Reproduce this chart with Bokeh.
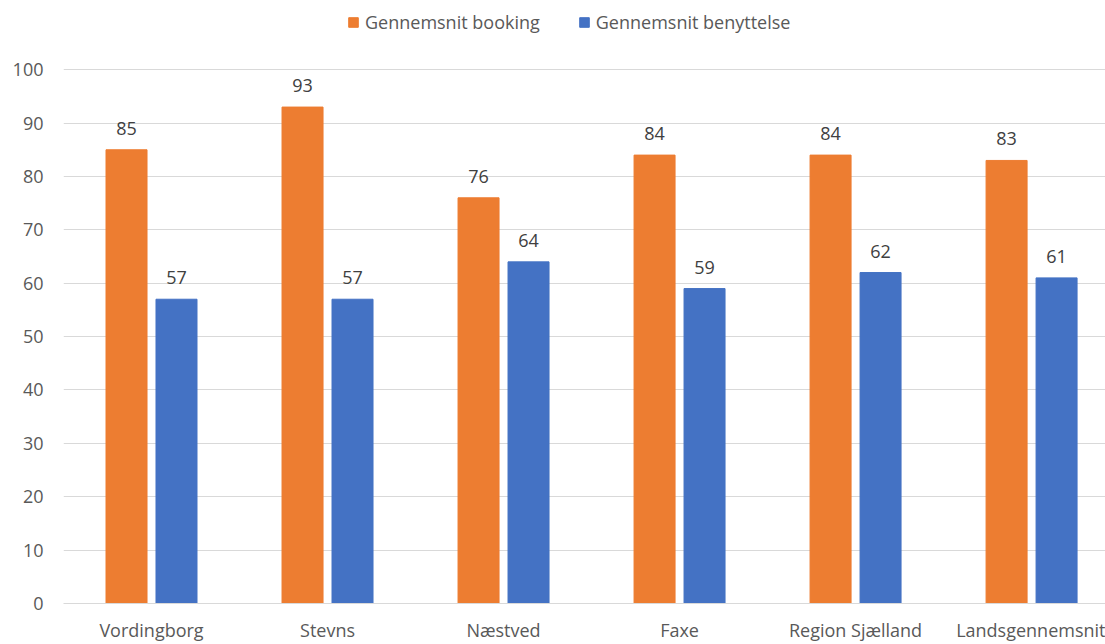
import numpy as np
from bokeh.plotting import figure
from bokeh.models import Range1d, FixedTicker, ColumnDataSource, Legend, LegendItem
from bokeh.core.properties import value
from bokeh.embed import file_html
from bokeh.resources import INLINE

categories = ["Vordingborg", "Stevns", "Næstved", "Faxe", "Region Sjælland", "Landsgennemsnit"]
booking = [85, 93, 76, 84, 84, 83]
benyttelse = [57, 57, 64, 59, 62, 61]
series_names = ["Gennemsnit booking", "Gennemsnit benyttelse"]
y_ticks = [0, 10, 20, 30, 40, 50, 60, 70, 80, 90, 100]

FONT = "Open Sans"
FS = "18px"
ORANGE = "#ED7D31"
BLUE = "#4472C4"

centers = np.arange(len(categories)) + 0.5
off = 0.142
bw = 0.233

p = figure(width=1105, height=644, output_backend="svg", toolbar_location=None,
           x_range=Range1d(0, 5.92), y_range=Range1d(0, 111.09),
           min_border_left=63, min_border_right=0, min_border_top=10, min_border_bottom=40)
p.outline_line_color = None
p.background_fill_color = "white"

src1 = ColumnDataSource(dict(x=centers - off, y=booking, t=[str(v) for v in booking]))
src2 = ColumnDataSource(dict(x=centers + off, y=benyttelse, t=[str(v) for v in benyttelse]))

r1 = p.vbar(x="x", top="y", width=bw, bottom=0, source=src1, fill_color=ORANGE, line_color=ORANGE)
r2 = p.vbar(x="x", top="y", width=bw, bottom=0, source=src2, fill_color=BLUE, line_color=BLUE)

for s in (src1, src2):
    p.text(x="x", y="y", text="t", source=s, text_align="center", text_baseline="bottom",
           y_offset=-15, text_font=value(FONT), text_font_size=FS, text_color="#404040")

# axes
p.xaxis.ticker = FixedTicker(ticks=list(centers))
p.xaxis.major_label_overrides = {float(c): name for c, name in zip(centers, categories)}
p.xaxis.major_tick_line_color = None
p.xaxis.major_tick_out = 0
p.xaxis.major_tick_in = 0
p.xaxis.minor_tick_line_color = None
p.xaxis.axis_line_color = "#D9D9D9"
p.xaxis.axis_line_width = 1
p.xaxis.major_label_text_font = FONT
p.xaxis.major_label_text_font_size = FS
p.xaxis.major_label_text_color = "#595959"
p.xaxis.major_label_standoff = 14

p.yaxis.ticker = FixedTicker(ticks=y_ticks)
p.yaxis.major_tick_line_color = None
p.yaxis.major_tick_out = 0
p.yaxis.major_tick_in = 0
p.yaxis.minor_tick_line_color = None
p.yaxis.axis_line_color = None
p.yaxis.major_label_text_font = FONT
p.yaxis.major_label_text_font_size = FS
p.yaxis.major_label_text_color = "#595959"
p.yaxis.major_label_standoff = 20

p.xgrid.grid_line_color = None
p.ygrid.grid_line_color = "#D9D9D9"
p.ygrid.ticker = FixedTicker(ticks=y_ticks[1:])

legend = Legend(items=[LegendItem(label=series_names[0], renderers=[r1]),
                       LegendItem(label=series_names[1], renderers=[r2])],
                orientation="horizontal", location=(284, 569),
                border_line_color=None, background_fill_alpha=0,
                label_text_font=FONT, label_text_font_size=FS, label_text_color="#595959",
                glyph_width=12, glyph_height=12, spacing=38, label_standoff=6,
                padding=0, margin=0)
p.add_layout(legend)

open("out.html", "w").write(file_html(p, INLINE))
